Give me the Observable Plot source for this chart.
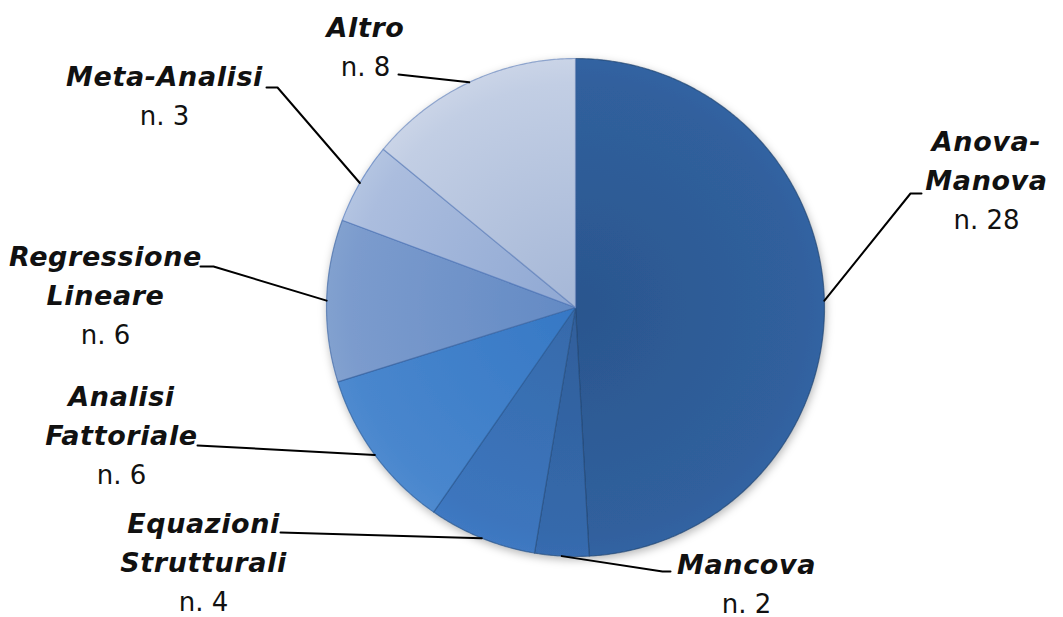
<!DOCTYPE html>
<html>
<head>
<meta charset="utf-8">
<script src="https://cdn.jsdelivr.net/npm/d3@7"></script>
<script src="https://cdn.jsdelivr.net/npm/@observablehq/plot@0.6"></script>
<style>
  html, body { margin: 0; padding: 0; background: #fff; }
  #chart svg { display: block; }
  #chart g[font-style="italic"] text { letter-spacing: 0.6px; }
</style>
</head>
<body>
<div id="chart"></div>
<script>
// Metodi statistici utilizzati (numero di studi), in senso orario dalle ore 12
const categories = ["Anova-Manova", "Mancova", "Equazioni Strutturali", "Analisi Fattoriale", "Regressione Lineare", "Meta-Analisi", "Altro"];
const nameLines = [["Anova-", "Manova"], ["Mancova"], ["Equazioni", "Strutturali"], ["Analisi", "Fattoriale"], ["Regressione", "Lineare"], ["Meta-Analisi"], ["Altro"]];
const counts = [28, 2, 4, 6, 6, 3, 8];
const sliceColors = ["#2f5e9a", "#3467a8", "#3b73b9", "#4483cc", "#7698cb", "#a5b9dc", "#bcc9e1"];

// Chart geometry (units = px, origin at the pie centre, y pointing down)
const W = 1063, H = 617, CX = 575, CY = 307, R = 249;
const LINE_GAP = 39;

// Label placement: first-line baseline + leader path (after the rim point), relative to the centre
const labelLayout = [
  {tx: 411, ty: -157, path: [[335, -114], [346, -114]]},
  {tx: 171, ty: 266, path: [[87, 264], [95, 264]]},
  {tx: -372, ty: 225, path: [[-295, 225]]},
  {tx: -454, ty: 98, path: [[-378, 138]]},
  {tx: -470, ty: -42, path: [[-362, -41], [-375, -41]]},
  {tx: -411, ty: -222, path: [[-298, -220], [-309, -220]]},
  {tx: -210, ty: -271, path: [[-177, -233]]}
];

const arcs = d3.pie().sort(null).value(d => d)(counts);
const polar = (a, r) => [r * Math.sin(a), -r * Math.cos(a)];

// Slice outlines: centre -> arc -> centre
const slicePts = [];
arcs.forEach((a, i) => {
  const steps = Math.max(2, Math.ceil((a.endAngle - a.startAngle) / (Math.PI / 360)));
  slicePts.push({k: i, x: 0, y: 0});
  for (let s = 0; s <= steps; s++) {
    const t = a.startAngle + (a.endAngle - a.startAngle) * s / steps;
    const [x, y] = polar(t, R);
    slicePts.push({k: i, x, y});
  }
  slicePts.push({k: i, x: 0, y: 0});
});

// Leader lines from the slice mid-angle on the rim to the label
const leaderPts = [];
arcs.forEach((a, i) => {
  const [x, y] = polar((a.startAngle + a.endAngle) / 2, R);
  leaderPts.push({k: i, x, y});
  labelLayout[i].path.forEach(([px, py]) => leaderPts.push({k: i, x: px, y: py}));
});

// Label text lines
const nameText = [], countText = [];
categories.forEach((c, i) => {
  const L = labelLayout[i];
  nameLines[i].forEach((t, j) => nameText.push({x: L.tx, y: L.ty + j * LINE_GAP, t}));
  countText.push({x: L.tx, y: L.ty + nameLines[i].length * LINE_GAP, t: `n. ${counts[i]}`});
});

// Gradients and shadow definitions
function defs() {
  const d = d3.create("svg:defs");
  sliceColors.forEach((col, i) => {
    const c = d3.hsl(col);
    const g = d.append("radialGradient")
      .attr("id", `slice-grad-${i}`)
      .attr("gradientUnits", "userSpaceOnUse")
      .attr("cx", CX).attr("cy", CY).attr("r", R);
    g.append("stop").attr("offset", "0%").attr("stop-color", d3.hsl(c.h, c.s, c.l * 0.92).formatHex());
    g.append("stop").attr("offset", "90%").attr("stop-color", d3.hsl(c.h, c.s, Math.min(0.95, c.l * 1.02)).formatHex());
    g.append("stop").attr("offset", "100%").attr("stop-color", d3.hsl(c.h, c.s, Math.min(0.95, c.l * 1.05)).formatHex());
  });
  const f = d.append("filter").attr("id", "pie-shadow")
    .attr("x", "-10%").attr("y", "-10%").attr("width", "120%").attr("height", "125%");
  f.append("feDropShadow").attr("dx", 1).attr("dy", 3).attr("stdDeviation", 4)
    .attr("flood-color", "#000").attr("flood-opacity", 0.28);
  return d.node();
}

const fontFamily = "'DejaVu Sans', sans-serif";

const plot = Plot.plot({
  width: W,
  height: H,
  margin: 0,
  x: {domain: [-CX, W - CX], range: [0, W], axis: null},
  y: {domain: [-CY, H - CY], range: [0, H], axis: null},
  color: {type: "identity"},
  marks: [
    defs,
    Plot.line(slicePts, {
      x: "x", y: "y", z: "k",
      fill: d => `url(#slice-grad-${d.k})`,
      stroke: d => d3.hsl(sliceColors[d.k]).darker(1).formatHex(),
      strokeWidth: 1.2,
      strokeOpacity: 0.65,
      strokeLinejoin: "round",
      ariaDescription: "slices"
    }),
    Plot.line(leaderPts, {x: "x", y: "y", z: "k", stroke: "#000", strokeWidth: 2}),
    Plot.text(nameText, {
      x: "x", y: "y", text: "t",
      fontFamily, fontSize: 27, fontWeight: "bold", fontStyle: "italic",
      fill: "#111", textAnchor: "middle", lineAnchor: "bottom"
    }),
    Plot.text(countText, {
      x: "x", y: "y", text: "t",
      fontFamily, fontSize: 26, fill: "#111", textAnchor: "middle", lineAnchor: "bottom"
    })
  ]
});

d3.select(plot).select('g[aria-description="slices"]').attr("filter", "url(#pie-shadow)");
document.getElementById("chart").appendChild(plot);
</script>
</body>
</html>
